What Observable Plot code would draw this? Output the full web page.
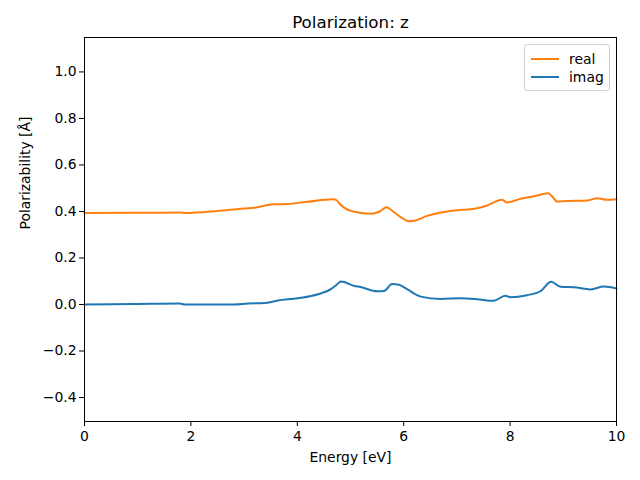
<!DOCTYPE html>
<html><head><meta charset="utf-8">
<script src="https://cdn.jsdelivr.net/npm/d3@7"></script>
<script src="https://cdn.jsdelivr.net/npm/@observablehq/plot@0.6"></script>
<style>
body{margin:0;background:#fff;}
#wrap{position:relative;width:640px;height:480px;font-family:"DejaVu Sans",sans-serif;}
#legend{position:absolute;left:524px;top:44px;width:84px;height:45px;border:1px solid #d0d0d0;border-radius:3px;background:rgba(255,255,255,0.8);font-size:13.9px;}
.row{position:absolute;left:6px;height:16px;display:flex;align-items:center;}
.sw{width:28px;height:2px;margin-right:10px;}
</style>
</head><body>
<div id="wrap"><div id="chart"></div>
<div id="legend">
<div class="row" style="top:6px"><div class="sw" style="background:#ff7f0e"></div><span>real</span></div>
<div class="row" style="top:24px"><div class="sw" style="background:#1f77b4"></div><span>imag</span></div>
</div></div>
<script>
const realEnergy = [0,0.9,1.8,1.9,2.5,3.0,3.2,3.55,3.8,4.2,4.66,4.73,4.8,4.9,5.07,5.38,5.55,5.68,5.8,5.95,6.1,6.2,6.44,6.82,7.1,7.38,7.57,7.85,7.94,8.2,8.45,8.72,8.8,8.88,9.07,9.45,9.64,9.82,10];
const realValues = [0.393,0.394,0.396,0.393,0.402,0.413,0.416,0.431,0.432,0.442,0.453,0.450,0.432,0.413,0.399,0.390,0.400,0.418,0.400,0.375,0.358,0.360,0.381,0.400,0.407,0.414,0.426,0.450,0.439,0.455,0.465,0.478,0.462,0.443,0.445,0.447,0.457,0.450,0.453];
const imagEnergy = [0,0.94,1.79,1.88,2.82,3.07,3.38,3.63,4.01,4.39,4.64,4.74,4.82,5.07,5.19,5.50,5.63,5.78,5.91,6.07,6.32,6.69,7.07,7.38,7.69,7.91,8.01,8.32,8.57,8.77,8.95,9.2,9.51,9.76,10];
const imagValues = [0.0,0.002,0.004,0.0,0.0,0.004,0.006,0.017,0.027,0.044,0.067,0.085,0.099,0.080,0.075,0.057,0.058,0.088,0.085,0.065,0.034,0.024,0.027,0.023,0.016,0.038,0.031,0.040,0.057,0.098,0.076,0.074,0.065,0.077,0.069];
const xTicks = [0,2,4,6,8,10];
const yTicks = [-0.4,-0.2,0,0.2,0.4,0.6,0.8,1.0];

const real = realEnergy.map((e,i)=>({e, v: realValues[i]}));
const imag = imagEnergy.map((e,i)=>({e, v: imagValues[i]}));

const fmt = d3.format(".1f");
const plot = Plot.plot({
  width: 640, height: 480,
  marginLeft: 84, marginRight: 24, marginTop: 37, marginBottom: 59,
  style: {fontFamily: "DejaVu Sans, sans-serif", fontSize: "13.9px", color: "#000", background: "#fff"},
  x: {domain: [0,10]},
  y: {domain: [-0.503, 1.148]},
  marks: [
    Plot.axisX({ticks: xTicks, tickSize: 5, tickPadding: 5, label: null, tickFormat: d => String(d)}),
    Plot.axisY({ticks: yTicks, tickSize: 5, tickPadding: 3, label: null, tickFormat: d => fmt(d)}),
    Plot.line(imag, {x: "e", y: "v", stroke: "#1f77b4", strokeWidth: 2, curve: "monotone-x"}),
    Plot.line(real, {x: "e", y: "v", stroke: "#ff7f0e", strokeWidth: 2, curve: "monotone-x"}),
    Plot.frame({stroke: "#000", strokeWidth: 1}),
    Plot.text(["Polarization: z"], {frameAnchor: "top", lineAnchor: "middle", dy: -15, fontSize: 16.7}),
    Plot.text(["Energy [eV]"], {frameAnchor: "bottom", lineAnchor: "middle", dy: 36}),
    Plot.text(["Polarizability [Å]"], {frameAnchor: "left", lineAnchor: "middle", dx: -59, rotate: -90})
  ]
});
document.getElementById("chart").appendChild(plot);
</script>
</body></html>
